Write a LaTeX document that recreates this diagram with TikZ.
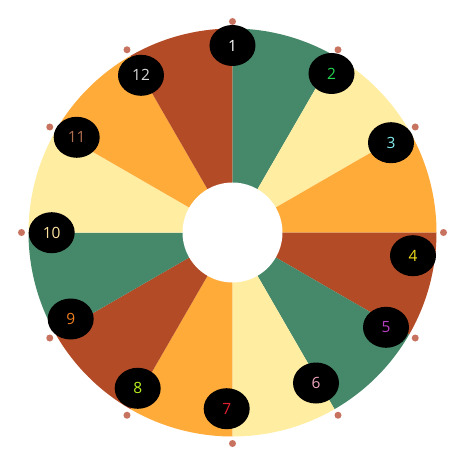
\documentclass[tikz,border=0pt]{standalone}
\usepackage{fontspec}
\setsansfont{Open Sans}
\usetikzlibrary{shapes.geometric}
\definecolor{pine}{HTML}{46896A}
\definecolor{cream}{HTML}{FFEDA2}
\definecolor{amber}{HTML}{FEAB3A}
\definecolor{rust}{HTML}{B34B26}
\definecolor{pegc}{HTML}{C8735F}
\tikzset{
  hub/.style={circle, fill=white, minimum size=100pt, inner sep=0pt},
  peg/.style={circle, fill=pegc, minimum size=7pt, inner sep=0pt},
  tag/.style={ellipse, fill=black, minimum width=46pt, minimum height=41pt, inner sep=0pt,
              font=\sffamily\fontsize{15.5}{15.5}\selectfont}
}

\begin{document}
\begin{tikzpicture}[x=1pt, y=1pt]
  \useasboundingbox (-232.5,-233.5) rectangle (233.5,232.5);
  % wedges, clockwise from the top
  \foreach \c [count=\i from 0] in {pine,cream,amber,rust,pine,cream,amber,rust,pine,cream,amber,rust}
    \fill[\c] (0,0) -- (90-30*\i:204) arc[start angle=90-30*\i, end angle=60-30*\i, radius=204] -- cycle;
  \node[hub] (hub) at (0,0) {};
  % pegs round the rim
  \foreach \i in {1,...,12}
    \node[peg] (p\i) at (120-30*\i:211) {};
  % number tags
  \node[tag, text=white] (n1) at (0,187) {1};
  \node[tag, text={rgb,255:red,34;green,214;blue,80}] (n2) at (99,159) {2};
  \node[tag, text={rgb,255:red,128;green,232;blue,232}] (n3) at (158.5,89.8) {3};
  \node[tag, text={rgb,255:red,240;green,222;blue,30}] (n4) at (180.5,-23.2) {4};
  \node[tag, text={rgb,255:red,184;green,64;blue,196}] (n5) at (153.5,-94.8) {5};
  \node[tag, text={rgb,255:red,240;green,164;blue,192}] (n6) at (83.5,-150.5) {6};
  \node[tag, text={rgb,255:red,224;green,32;blue,48}] (n7) at (-5.8,-176.2) {7};
  \node[tag, text={rgb,255:red,186;green,240;blue,32}] (n8) at (-94.8,-155.8) {8};
  \node[tag, text={rgb,255:red,240;green,128;blue,32}] (n9) at (-161.8,-86.5) {9};
  \node[tag, text={rgb,255:red,255;green,226;blue,160}] (n10) at (-180.8,-0.2) {10};
  \node[tag, text={rgb,255:red,176;green,112;blue,80}] (n11) at (-155.8,95.2) {11};
  \node[tag, text={rgb,255:red,216;green,216;blue,216}] (n12) at (-91.5,157.2) {12};
\end{tikzpicture}
\end{document}
